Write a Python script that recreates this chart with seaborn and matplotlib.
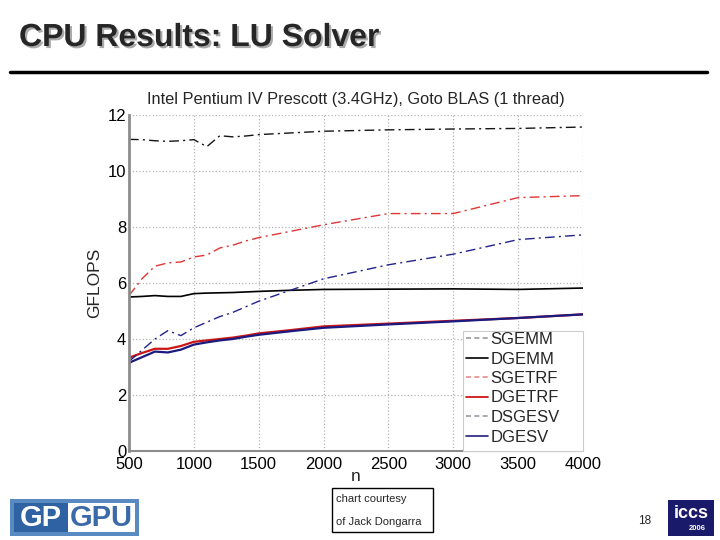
import matplotlib
matplotlib.use("Agg")
import matplotlib.pyplot as plt
import matplotlib.patheffects as pe
from matplotlib.lines import Line2D
from matplotlib.patches import Rectangle
import seaborn as sns
import pandas as pd

sns.set_theme(style="white")
plt.rcParams['font.family'] = ['Liberation Sans', 'DejaVu Sans']

n = [500, 600, 700, 800, 900, 1000, 1100, 1200, 1300, 1400, 1500, 1750, 2000, 2500, 3000, 3500, 4000]
sgemm = [11.13, 11.12, 11.08, 11.06, 11.08, 11.12, 10.87, 11.26, 11.22, 11.25, 11.3, 11.36, 11.42, 11.47, 11.5, 11.52, 11.57]
dgemm = [5.5, 5.52, 5.55, 5.52, 5.52, 5.62, 5.64, 5.65, 5.66, 5.68, 5.7, 5.74, 5.77, 5.78, 5.79, 5.77, 5.82]
sgetrf = [5.55, 6.15, 6.6, 6.72, 6.75, 6.93, 7.0, 7.25, 7.35, 7.5, 7.62, 7.85, 8.08, 8.48, 8.48, 9.05, 9.12]
dgetrf = [3.33, 3.5, 3.65, 3.65, 3.75, 3.9, 3.95, 4.0, 4.05, 4.12, 4.2, 4.32, 4.45, 4.55, 4.65, 4.75, 4.88]
dsgesv = [3.2, 3.6, 4.0, 4.3, 4.12, 4.4, 4.6, 4.8, 4.95, 5.15, 5.35, 5.75, 6.15, 6.65, 7.03, 7.55, 7.72]
dgesv = [3.15, 3.35, 3.55, 3.52, 3.62, 3.8, 3.88, 3.95, 4.0, 4.08, 4.15, 4.28, 4.4, 4.52, 4.63, 4.75, 4.88]

labels = ["SGEMM", "DGEMM", "SGETRF", "DGETRF", "DSGESV", "DGESV"]
series = [sgemm, dgemm, sgetrf, dgetrf, dsgesv, dgesv]
xticks = [500, 1000, 1500, 2000, 2500, 3000, 3500, 4000]
yticks = [0, 2, 4, 6, 8, 10, 12]

dashdot = (0, (7, 3, 1.5, 3))
line_colors = ["#151515", "#000000", "#e03535", "#cc1515", "#22228c", "#1a1a80"]
line_styles = [dashdot, "-", dashdot, "-", dashdot, "-"]
line_widths = [1.0, 1.2, 1.0, 1.6, 1.0, 1.6]
leg_colors = ["#9a9a9a", "#000000", "#e58a8a", "#cc0000", "#9a9aaa", "#202080"]
leg_styles = [(0, (3, 2)), "-", (0, (3, 2)), "-", (0, (3, 2)), "-"]

AX_L, AX_R, AX_T, AX_B = 129, 583, 115, 451
fig = plt.figure(figsize=(7.2, 5.4), dpi=100)
fig.patch.set_facecolor("white")
ax = fig.add_axes([AX_L/720, 1-AX_B/540, (AX_R-AX_L)/720, (AX_B-AX_T)/540])

for lab, vals, c, ls, lw in zip(labels, series, line_colors, line_styles, line_widths):
    df = pd.DataFrame({"n": n, "GFLOPS": vals})
    sns.lineplot(data=df, x="n", y="GFLOPS", color=c, linestyle=ls, linewidth=lw, ax=ax, legend=False)

ax.set_xlim(500, 4000)
ax.set_ylim(0, 12)
ax.set_xticks(xticks)
ax.set_yticks(yticks)
ax.set_xticklabels([str(v) for v in xticks])
ax.set_yticklabels([str(v) for v in yticks])
ax.tick_params(axis="both", labelsize=12, length=0, colors="black")
ax.tick_params(axis="x", pad=4.5)
ax.tick_params(axis="y", pad=2)
ax.grid(True, linestyle=":", color="#b5b5b5", linewidth=0.9)
for s in ["top", "right"]:
    ax.spines[s].set_visible(False)
ax.spines["left"].set_color("#8c8c8c")
ax.spines["left"].set_linewidth(2)
ax.spines["bottom"].set_color("#8c8c8c")
ax.spines["bottom"].set_linewidth(1.5)
ax.set_xlabel("n", fontsize=12.5, labelpad=-2)
ax.set_ylabel("GFLOPS", fontsize=12.5, labelpad=4)
ax.set_title("Intel Pentium IV Prescott (3.4GHz), Goto BLAS (1 thread)", fontsize=11.8, pad=8)

# legend frame (MATLAB-style, with generous right padding)
W, H = AX_R - AX_L, AX_B - AX_T
ax.add_patch(Rectangle(((463-AX_L)/W, 0), (AX_R-463)/W, (AX_B-331)/H, transform=ax.transAxes,
                       facecolor="white", edgecolor="#cccccc", linewidth=0.8, zorder=5, clip_on=False))
handles = [Line2D([0], [0], color=c, linestyle=ls, linewidth=1.2) for c, ls in zip(leg_colors, leg_styles)]
leg = ax.legend(handles, labels, loc="upper left", bbox_to_anchor=((466-AX_L)/W, (AX_B-332)/H),
                fontsize=12, frameon=False, handlelength=1.3, handletextpad=0.15, borderpad=0.0,
                labelspacing=0.27, borderaxespad=0.0)
leg.set_zorder(6)

# slide title
fig.text(19/720, 1-38/540, "CPU Results: LU Solver", fontsize=23, fontweight="bold", va="center", ha="left",
         path_effects=[pe.withSimplePatchShadow(offset=(1.5, -1.5), shadow_rgbFace="#aaaaaa", alpha=1.0)])
fig.add_artist(Line2D([10/720, 707/720], [1-72/540, 1-72/540], color="black", linewidth=2.5))

# courtesy box
fig.add_artist(Rectangle((332/720, 1-532/540), 101/720, 44/540, fill=False, edgecolor="black", linewidth=1))
fig.text(336/720, 1-499/540, "chart courtesy", fontsize=8, va="center", ha="left")
fig.text(336/720, 1-522/540, "of Jack Dongarra", fontsize=8, va="center", ha="left")

# page number
fig.text(645/720, 1-521/540, "18", fontsize=8.5, va="center", ha="center")

# GPGPU logo
fig.add_artist(Rectangle((10/720, 1-536/540), 129/720, 37/540, facecolor="#5a8ac2", edgecolor="none"))
fig.add_artist(Rectangle((14/720, 1-532/540), 54/720, 29/540, facecolor="#2f62a3", edgecolor="none"))
fig.add_artist(Rectangle((68/720, 1-532/540), 67/720, 29/540, facecolor="white", edgecolor="none"))
fig.text(41/720, 1-518/540, "GP", fontsize=21, fontweight="bold", color="white", va="center", ha="center")
fig.text(101/720, 1-518/540, "GPU", fontsize=21, fontweight="bold", color="#3a6aa8", va="center", ha="center")

# ICCS logo
fig.add_artist(Rectangle((668/720, 1-536/540), 46/720, 36/540, facecolor="#1a1a6a", edgecolor="none"))
fig.text(691/720, 1-513/540, "iccs", fontsize=13, fontweight="bold", color="white", va="center", ha="center")
fig.text(697/720, 1-528/540, "2006", fontsize=5.5, fontweight="bold", color="white", va="center", ha="center")

fig.savefig("out.png", dpi=100, facecolor="white")
